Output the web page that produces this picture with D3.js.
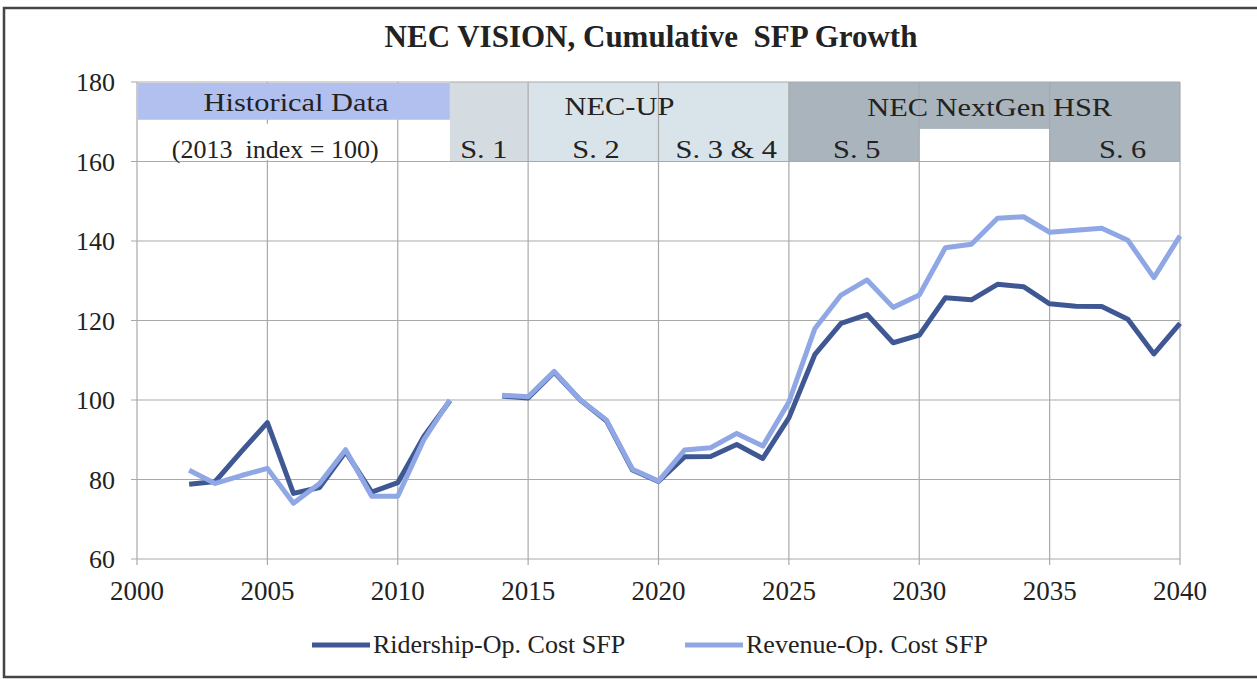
<!DOCTYPE html>
<html>
<head>
<meta charset="utf-8">
<script src="https://cdn.jsdelivr.net/npm/d3@7"></script>
<style>
  body { margin: 0; background: #fff; }
  text { font-family: "Liberation Serif", "Times New Roman", serif; fill: #222; }
</style>
</head>
<body>
<svg id="chart" width="1257" height="679"></svg>
<script>
const YEARS = [2002, 2003, 2004, 2005, 2006, 2007, 2008, 2009, 2010, 2011, 2012, 2013,
               2014, 2015, 2016, 2017, 2018, 2019, 2020, 2021, 2022, 2023, 2024, 2025,
               2026, 2027, 2028, 2029, 2030, 2031, 2032, 2033, 2034, 2035, 2036, 2037,
               2038, 2039, 2040];
const RIDERSHIP = [78.8, 79.5, 87, 94.3, 76.5, 78, 87, 76.8, 79.2, 90.8, 99.8, null,
                   101, 100.5, 107, 100, 94.8, 82.4, 79.5, 85.7, 85.8, 88.8, 85.3, 95.5,
                   111.5, 119.3, 121.5, 114.4, 116.3, 125.7, 125.2, 129.1, 128.5, 124.2, 123.6, 123.5,
                   120.3, 111.6, 119.3];
const REVENUE = [82.3, 79, 81, 82.8, 74, 79, 87.5, 75.8, 75.8, 90, 100, null,
                 101.2, 100.8, 107.2, 100, 95, 82.6, 79.6, 87.4, 88, 91.6, 88.4, 99.5,
                 118, 126.4, 130.2, 123.3, 126.4, 138.3, 139.2, 145.7, 146.1, 142.2, 142.7, 143.2,
                 140.2, 130.8, 141.3];
const SERIES_NAMES = ["Ridership-Op. Cost SFP", "Revenue-Op. Cost SFP"];
const X_TICKS = [2000, 2005, 2010, 2015, 2020, 2025, 2030, 2035, 2040];
const Y_TICKS = [60, 80, 100, 120, 140, 160, 180];

// phase boxes: [from year, to year, top value, bottom value]
const BANDS = [
    [2000, 2012, 180, 170.5],
    [2012, 2015, 180, 160],
    [2015, 2025, 180, 160],
    [2025, 2040, 180, 160]
];
const BAND_HOLE = [2030, 2035, 168.2, 160];
// labels: [text, year, value]
const BAND_LABELS = [
    ["Historical Data", 2006.1, 172.8],
    ["(2013  index = 100)", 2005.3, 161],
    ["S. 1", 2013.3, 161],
    ["NEC-UP", 2018.5, 171.8],
    ["S. 2", 2017.6, 161],
    ["S. 3 & 4", 2022.6, 161],
    ["S. 5", 2027.6, 161],
    ["NEC NextGen HSR", 2032.7, 171.5],
    ["S. 6", 2037.8, 160.8]
];

const BAND_COLORS = ["#b1c0ef", "#d4dce2", "#d9e3ea", "#a9b4bc"];
const LINE_COLORS = ["#3f5893", "#8fa7e4"];

const svg = d3.select("#chart");

// outer frame
svg.append("rect")
    .attr("x", 4).attr("y", 8)
    .attr("width", 1262).attr("height", 669)
    .attr("fill", "none")
    .attr("stroke", "#444")
    .attr("stroke-width", 2.5);

const x = d3.scaleLinear().domain([2000, 2040]).range([137, 1180]);
const y = d3.scaleLinear().domain([60, 180]).range([559, 82]);

svg.append("text")
    .attr("x", 651).attr("y", 47)
    .attr("text-anchor", "middle")
    .style("font-size", "31px")
    .style("font-weight", "bold")
    .style("white-space", "pre")
    .text("NEC VISION, Cumulative  SFP Growth");

// boxes (except the historical one go under the grid)
svg.append("g").selectAll("rect")
    .data(BANDS.slice(1))
    .enter()
    .append("rect")
    .attr("x", d => x(d[0]))
    .attr("y", d => y(d[2]))
    .attr("width", d => x(d[1]) - x(d[0]))
    .attr("height", d => y(d[3]) - y(d[2]))
    .attr("fill", (d, i) => BAND_COLORS[i + 1]);

svg.append("rect")
    .attr("x", x(BAND_HOLE[0]))
    .attr("y", y(BAND_HOLE[2]))
    .attr("width", x(BAND_HOLE[1]) - x(BAND_HOLE[0]))
    .attr("height", y(BAND_HOLE[3]) - y(BAND_HOLE[2]))
    .attr("fill", "#fff");

// grid
const grid = svg.append("g")
    .attr("stroke", "#a9a9a9")
    .attr("stroke-width", 1.2);

grid.selectAll(".h")
    .data(Y_TICKS)
    .enter()
    .append("line")
    .attr("x1", x(2000) - 6).attr("x2", x(2040))
    .attr("y1", d => y(d)).attr("y2", d => y(d));

grid.selectAll(".v")
    .data(X_TICKS)
    .enter()
    .append("line")
    .attr("x1", d => x(d)).attr("x2", d => x(d))
    .attr("y1", y(180)).attr("y2", y(60) + 6);

// historical box sits on top of the grid
let hb = BANDS[0];
svg.append("rect")
    .attr("x", x(hb[0]) + 1)
    .attr("y", y(hb[2]) + 1)
    .attr("width", x(hb[1]) - x(hb[0]) - 1)
    .attr("height", y(hb[3]) - y(hb[2]) - 1)
    .attr("fill", BAND_COLORS[0]);

// white background behind the index note
svg.append("rect")
    .attr("x", x(2000) + 3).attr("y", y(169.5))
    .attr("width", x(2009.8) - x(2000) - 3)
    .attr("height", y(160.4) - y(169.5))
    .attr("fill", "#fff");

// the scanned labels are a bit wider than the font, stretch them
// (the index note is not stretched)
svg.append("g").selectAll("text")
    .data(BAND_LABELS)
    .enter()
    .append("text")
    .attr("transform", (d, i) => "translate(" + x(d[1]) + "," + y(d[2]) + ") scale(" + (i === 1 ? 1 : 1.17) + ",1)")
    .attr("text-anchor", "middle")
    .style("font-size", "26px")
    .style("white-space", "pre")
    .text(d => d[0]);

// axis labels
svg.append("g").selectAll("text")
    .data(Y_TICKS)
    .enter()
    .append("text")
    .attr("x", 115)
    .attr("y", d => y(d) + 9)
    .attr("text-anchor", "end")
    .style("font-size", "26px")
    .text(d => d);

svg.append("g").selectAll("text")
    .data(X_TICKS)
    .enter()
    .append("text")
    .attr("x", d => x(d))
    .attr("y", 600)
    .attr("text-anchor", "middle")
    .style("font-size", "27px")
    .text(d => d);

// series lines
const series = [RIDERSHIP, REVENUE];
const line = d3.line()
    .defined(d => d[1] !== null)
    .x(d => x(d[0]))
    .y(d => y(d[1]));

// ridership first, revenue drawn over it
[0, 1].forEach(function(k) {
    svg.append("path")
        .datum(YEARS.map((yr, i) => [yr, series[k][i]]))
        .attr("d", line)
        .attr("fill", "none")
        .attr("stroke", LINE_COLORS[k])
        .attr("stroke-width", 5)
        .attr("stroke-linejoin", "round");
});

// legend
const legendX = [312, 685];
const legend = svg.append("g").selectAll("g")
    .data(SERIES_NAMES)
    .enter()
    .append("g")
    .attr("transform", (d, i) => "translate(" + legendX[i] + ",645)");

legend.append("line")
    .attr("x1", 0).attr("x2", 58)
    .attr("stroke", (d, i) => LINE_COLORS[i])
    .attr("stroke-width", 5);

legend.append("text")
    .attr("x", 61).attr("y", 8)
    .style("font-size", "26px")
    .text(d => d);
</script>
</body>
</html>
